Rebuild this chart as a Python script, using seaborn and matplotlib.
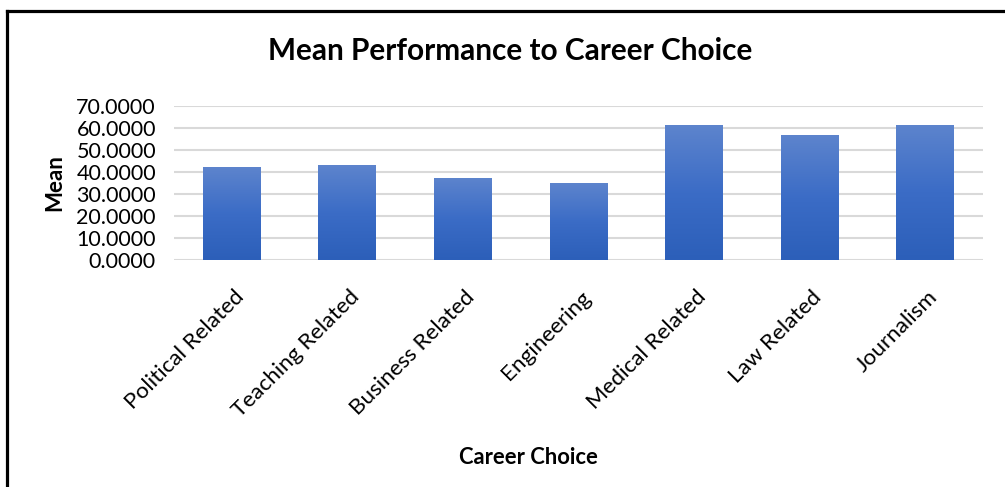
import matplotlib
matplotlib.use("Agg")
import matplotlib.pyplot as plt
import matplotlib.transforms as mtransforms
from matplotlib.lines import Line2D
from matplotlib.colors import LinearSegmentedColormap
import numpy as np
import pandas as pd
import seaborn as sns

# Mean performance by career choice
careers = ["Political Related", "Teaching Related", "Business Related", "Engineering",
           "Medical Related", "Law Related", "Journalism"]
means = [42.1, 43.0, 37.4, 35.0, 61.2, 56.8, 61.5]
y_ticks = [0, 10, 20, 30, 40, 50, 60, 70]

sns.set_theme(style="white")
plt.rcParams["font.family"] = ["Lato", "DejaVu Sans"]

df = pd.DataFrame({"career": careers, "mean": means})

fig = plt.figure(figsize=(10.05, 4.87), dpi=100)
ax = fig.add_axes([0.1731, 0.4661, 0.978 - 0.1731, 0.7823 - 0.4661])

sns.barplot(data=df, x="career", y="mean", ax=ax, width=0.5, color="#4472c4",
            saturation=1, zorder=3)

# vertical gradient fill for each bar, clipped to the bar shape
grad = LinearSegmentedColormap.from_list("bar", ["#2c5fb9", "#3b6cc6", "#5d84cd"])
gimg = np.linspace(0, 1, 256).reshape(-1, 1)
for p in ax.patches:
    x0, y0 = p.get_x(), p.get_y()
    w, h = p.get_width(), p.get_height()
    im = ax.imshow(gimg, cmap=grad, origin="lower", aspect="auto",
                   extent=[x0, x0 + w, y0, y0 + h], zorder=4)
    im.set_clip_path(p)
    p.set_facecolor("none")
    p.set_edgecolor("none")

ax.set_xlim(-0.5, len(careers) - 0.5)
ax.set_ylim(0, 70)
ax.set_yticks(y_ticks)
ax.set_yticklabels([f"{v:.4f}" for v in y_ticks], fontsize=15.5, color="black")
ax.yaxis.grid(True, color="#d9d9d9", linewidth=1.5, zorder=0)
ax.xaxis.grid(False)
for s in ax.spines.values():
    s.set_visible(False)
ax.tick_params(axis="y", length=0, pad=13)
ax.tick_params(axis="x", length=0, pad=0)

ax.set_xlabel("")
ax.set_ylabel("")
offset = mtransforms.ScaledTranslation(9 / 100, -34 / 100, fig.dpi_scale_trans)
for lab in ax.get_xticklabels():
    lab.set_rotation(45)
    lab.set_ha("right")
    lab.set_va("center")
    lab.set_rotation_mode("anchor")
    lab.set_fontsize(16.2)
    lab.set_color("black")
    lab.set_transform(lab.get_transform() + offset)

fig.text(0.508, 1 - 51 / 487, "Mean Performance to Career Choice", ha="center", va="center",
         fontsize=21.4, fontweight="bold", color="black")
fig.text(55 / 1005, 1 - 183 / 487, "Mean", ha="center", va="center", rotation=90,
         fontsize=16, fontweight="bold", color="black")
fig.text(528 / 1005, 1 - 457 / 487, "Career Choice", ha="center", va="center",
         fontsize=15.8, fontweight="bold", color="black")

# outer frame (left and top edges)
fig.add_artist(Line2D([7 / 1005, 7 / 1005], [0, 1 - 11 / 487], transform=fig.transFigure,
                      color="black", linewidth=2.3, solid_capstyle="projecting"))
fig.add_artist(Line2D([7 / 1005, 1], [1 - 11 / 487, 1 - 11 / 487], transform=fig.transFigure,
                      color="black", linewidth=2.3, solid_capstyle="projecting"))

fig.savefig("out.png", dpi=100, facecolor="white")
